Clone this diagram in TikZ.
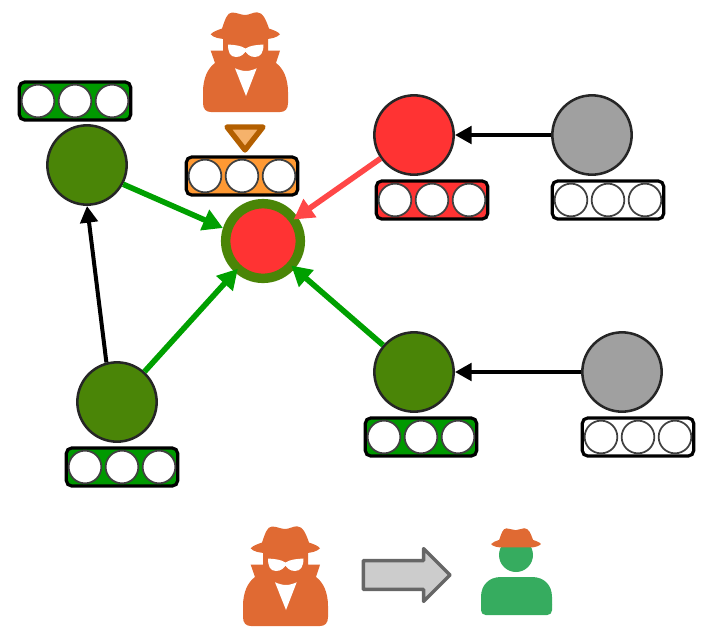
\documentclass[tikz,border=0pt]{standalone}
\usepackage{tikz}
\usetikzlibrary{arrows.meta, shapes.arrows}

\definecolor{spyorange}{HTML}{E06A33}
\definecolor{spybrown}{HTML}{B35F00}
\definecolor{spylight}{HTML}{F5B26B}
\definecolor{userleaf}{HTML}{4A8507}
\definecolor{barleaf}{HTML}{009900}
\definecolor{barorange}{HTML}{FF9933}
\definecolor{hotred}{HTML}{FF3333}
\definecolor{idlegray}{HTML}{A0A0A0}
\definecolor{arrgreen}{HTML}{00A000}
\definecolor{personcol}{HTML}{36AC5F}

\tikzset{
  pics/spyhat/.style={code={
    \fill[spyorange] (7.7,22.3) .. controls (10,19.5) and (15,18) .. (19,16.5)
      .. controls (22,8) and (24,0.5) .. (29,0.5)
      .. controls (34,0.5) and (38,3) .. (42,3)
      .. controls (46,3) and (50,0.3) .. (54,0.3)
      .. controls (60,0.3) and (63,8) .. (66,16.5)
      .. controls (70,18) and (75,19.5) .. (77,22.3)
      .. controls (74,25.5) and (68,27) .. (62,27)
      -- (23,27) .. controls (17,27) and (10,25.5) .. (7.7,22.3) -- cycle;
  }},
  pics/spy/.style={code={
    \fill[spyorange] (20,25) -- (65,25) -- (65,38.7) -- (77,38.7) -- (73,51)
      .. controls (80,56) and (85,66) .. (85,80) -- (85,91)
      .. controls (85,97) and (82,100) .. (77,100) -- (8,100)
      .. controls (3,100) and (0,97) .. (0,91) -- (0,80)
      .. controls (0,66) and (5,56) .. (12,51) -- (7.7,38.7) -- (20,38.7) -- cycle;
    \pic {spyhat};
    % glasses and shirt
    \fill[white] (25,32.5) .. controls (32,33) and (38,33.5) .. (42.5,36.5)
      .. controls (47,33.5) and (53,33) .. (60.5,32.5)
      .. controls (60.5,40) and (58,45) .. (52,45)
      .. controls (47,45) and (44,42) .. (42.5,39.5)
      .. controls (41,42) and (38,45) .. (33,45)
      .. controls (27,45) and (25,40) .. (25,32.5) -- cycle;
    \fill[white] (32,56.3) .. controls (36,58) and (40,59) .. (43,59)
      .. controls (46,59) and (50,58) .. (53.7,56.3) -- (43,84) -- cycle;
  }}
}

\begin{document}
\begin{tikzpicture}[
  x=0.75pt, y=-0.75pt,
  peer/.style={circle, draw=black!85, line width=1.9pt, minimum size=59.5pt, inner sep=0pt},
  tokenbar/.style={draw=black, line width=2.4pt, rounded corners=4pt, minimum width=83.5pt,
                   minimum height=28.5pt, inner sep=0pt},
  slot/.style={circle, draw=black!75, fill=white, line width=1.3pt, minimum size=24.5pt, inner sep=0pt},
  arr/.style={-{Triangle[length=15pt, width=16pt]}, line width=4.2pt},
  blackarr/.style={-{Triangle[length=12.5pt, width=13pt]}, line width=3pt, black}
]
  \useasboundingbox (0,0) rectangle (719,637);

  \node[peer, fill=userleaf] (left) at (87,165) {};
  \node[peer, fill=userleaf] (lowleft) at (117,402) {};
  \node[peer, fill=userleaf] (lowright) at (414,372) {};
  \node[peer, fill=hotred] (upper) at (414,135) {};
  \node[peer, fill=idlegray] (uppergray) at (592,135) {};
  \node[peer, fill=idlegray] (lowergray) at (622,372) {};
  \node[circle, draw=userleaf, fill=hotred, line width=7.1pt, minimum size=56pt, inner sep=0pt] (victim) at (263,241) {};

  \draw[arr, arrgreen] (left.-28) -- (victim.162);
  \draw[arr, arrgreen, shorten >=-3.5pt] (lowleft) -- (victim);
  \draw[arr, arrgreen, shorten >=-3.5pt] (lowright) -- (victim);
  \draw[arr, hotred!90!white, shorten >=-3.5pt] (upper) -- (victim);
  \draw[blackarr] (lowleft.105) -- (left.south);
  \draw[blackarr] (uppergray) -- (upper);
  \draw[blackarr] (lowergray) -- (lowright);

  % token bars
  \foreach \name/\px/\py/\col in {barleft/75/101/barleaf, barspy/242/176/barorange,
      barupper/432/200/hotred, baruppergray/608/200/white, barlowleft/122/467/barleaf,
      barlowright/421/437/barleaf, barlowergray/638/437/white} {
    \node[tokenbar, fill=\col] (\name) at (\px,\py) {};
    \foreach \k in {-37,0,37}
      \node[slot] (\name\k) at (\px+\k,\py) {};
  }

  \pic at (203,12) {spy};
  \pic at (243,526) {spy};

  \draw[draw=spybrown, fill=spylight, line width=4pt, line join=round] (227,127) -- (263,127) -- (245,150) -- cycle;

  \node[single arrow, draw=black!60, fill=black!20, line width=2.6pt, line join=round,
        minimum height=65pt, minimum width=37pt, single arrow head extend=9pt,
        inner xsep=0pt, inner ysep=9.5pt] (change) at (399.5,575) {};

  \fill[personcol] (516,555) circle [radius=17];
  \fill[personcol, rounded corners=3.5pt] (481,600) -- (481,615) -- (552,615) -- (552,600) -- cycle;
  \fill[personcol] (481,605) -- (481,597) .. controls (481,585) and (489,577) .. (501,577)
    -- (532,577) .. controls (544,577) and (552,585) .. (552,597) -- (552,605) -- cycle;
  \pic[scale=0.72] at (485.5,528) {spyhat};
\end{tikzpicture}
\end{document}
